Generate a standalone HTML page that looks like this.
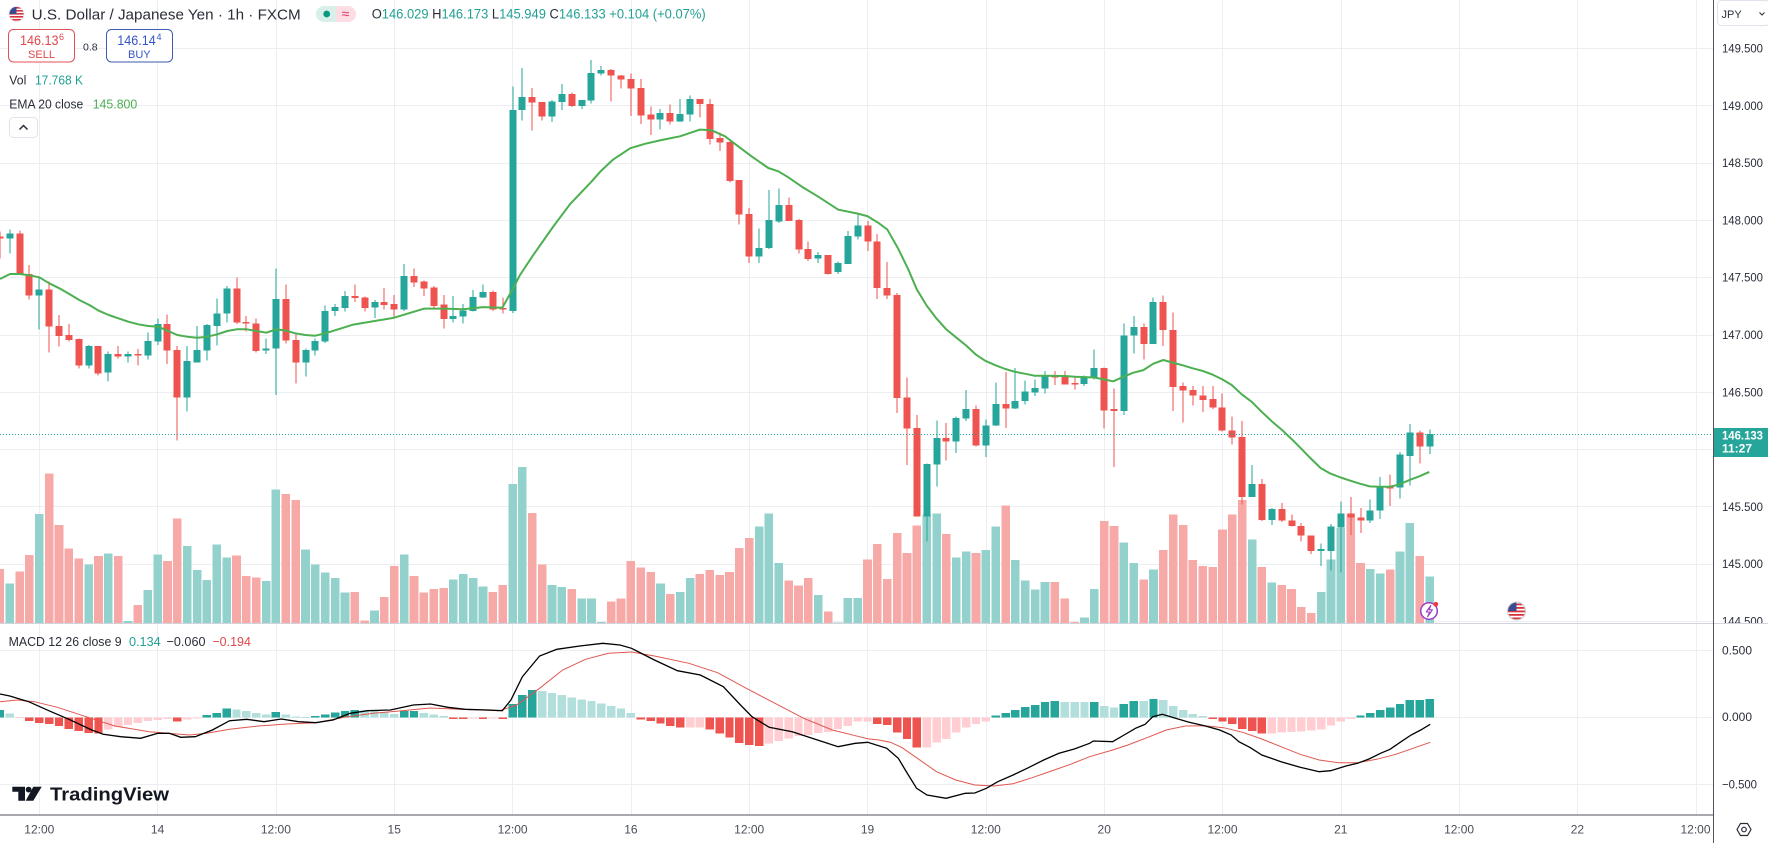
<!DOCTYPE html>
<html><head><meta charset="utf-8">
<style>
html,body{margin:0;padding:0;background:#fff;}
body{width:1768px;height:843px;overflow:hidden;position:relative;}
svg{position:absolute;left:0;top:0;font-family:"Liberation Sans",Arial,sans-serif;}
</style></head><body>
<svg id="c" width="1768" height="843" viewBox="0 0 1768 843" xmlns="http://www.w3.org/2000/svg">
<defs>
  <clipPath id="pp"><rect x="0" y="0" width="1713" height="623"/></clipPath>
  <clipPath id="mp"><rect x="0" y="624" width="1713" height="191"/></clipPath>
  <clipPath id="axp"><rect x="1714" y="26" width="54" height="597"/></clipPath>
  <clipPath id="pill"><rect x="316" y="6" width="40" height="16" rx="8"/></clipPath>
  <clipPath id="fl1"><circle cx="16.5" cy="14" r="7.5"/></clipPath>
  <clipPath id="fl2"><circle cx="1516.5" cy="611" r="8.5"/></clipPath>
</defs>
<rect x="0" y="0" width="1768" height="843" fill="#ffffff"/>
<!-- grid -->
<g stroke="#eceef2" stroke-width="1">
  <line x1="0" y1="48.5" x2="1713" y2="48.5"/>
  <line x1="0" y1="105.5" x2="1713" y2="105.5"/>
  <line x1="0" y1="163.5" x2="1713" y2="163.5"/>
  <line x1="0" y1="220.5" x2="1713" y2="220.5"/>
  <line x1="0" y1="277.5" x2="1713" y2="277.5"/>
  <line x1="0" y1="335.5" x2="1713" y2="335.5"/>
  <line x1="0" y1="392.5" x2="1713" y2="392.5"/>
  <line x1="0" y1="449.5" x2="1713" y2="449.5"/>
  <line x1="0" y1="506.5" x2="1713" y2="506.5"/>
  <line x1="0" y1="564.5" x2="1713" y2="564.5"/>
  <line x1="0" y1="621.5" x2="1713" y2="621.5"/>
  <line x1="0" y1="650.5" x2="1713" y2="650.5"/>
  <line x1="0" y1="717.5" x2="1713" y2="717.5"/>
  <line x1="0" y1="784.5" x2="1713" y2="784.5"/>
  <line x1="39.5" y1="0" x2="39.5" y2="815"/>
  <line x1="157.5" y1="0" x2="157.5" y2="815"/>
  <line x1="276.5" y1="0" x2="276.5" y2="815"/>
  <line x1="394.5" y1="0" x2="394.5" y2="815"/>
  <line x1="512.5" y1="0" x2="512.5" y2="815"/>
  <line x1="631.5" y1="0" x2="631.5" y2="815"/>
  <line x1="749.5" y1="0" x2="749.5" y2="815"/>
  <line x1="867.5" y1="0" x2="867.5" y2="815"/>
  <line x1="986.5" y1="0" x2="986.5" y2="815"/>
  <line x1="1104.5" y1="0" x2="1104.5" y2="815"/>
  <line x1="1222.5" y1="0" x2="1222.5" y2="815"/>
  <line x1="1341.5" y1="0" x2="1341.5" y2="815"/>
  <line x1="1459.5" y1="0" x2="1459.5" y2="815"/>
  <line x1="1577.5" y1="0" x2="1577.5" y2="815"/>
  <line x1="1696.5" y1="0" x2="1696.5" y2="815"/>
</g>
<g id="vol" clip-path="url(#pp)" shape-rendering="crispEdges"></g>
<g id="cand" clip-path="url(#pp)" shape-rendering="crispEdges"></g>
<g clip-path="url(#pp)"><path id="ema" d="" fill="none" stroke="#4caf50" stroke-width="2" stroke-linejoin="round"/></g>
<line x1="0" y1="434.5" x2="1713" y2="434.5" stroke="#26a69a" stroke-width="1" stroke-dasharray="1 2"/>
<g id="hist" clip-path="url(#mp)" shape-rendering="crispEdges"></g>
<g clip-path="url(#mp)">
  <path id="sig" d="" fill="none" stroke="#e0574f" stroke-width="1"/>
  <path id="mac" d="" fill="none" stroke="#000000" stroke-width="1.3"/>
</g>
<!-- separators / axes -->
<line x1="0" y1="623.5" x2="1768" y2="623.5" stroke="#d1d4dc" stroke-width="1"/>
<line x1="0" y1="815" x2="1713" y2="815" stroke="#50535e" stroke-width="1"/>
<line x1="1713.5" y1="0" x2="1713.5" y2="843" stroke="#50535e" stroke-width="1"/>

<!-- price axis labels -->
<g font-size="12" fill="#2a2e39" clip-path="url(#axp)">
  <text x="1722" y="52.5" textLength="41" lengthAdjust="spacingAndGlyphs">149.500</text>
  <text x="1722" y="109.8" textLength="41" lengthAdjust="spacingAndGlyphs">149.000</text>
  <text x="1722" y="167.1" textLength="41" lengthAdjust="spacingAndGlyphs">148.500</text>
  <text x="1722" y="224.4" textLength="41" lengthAdjust="spacingAndGlyphs">148.000</text>
  <text x="1722" y="281.7" textLength="41" lengthAdjust="spacingAndGlyphs">147.500</text>
  <text x="1722" y="339" textLength="41" lengthAdjust="spacingAndGlyphs">147.000</text>
  <text x="1722" y="396.3" textLength="41" lengthAdjust="spacingAndGlyphs">146.500</text>
  <text x="1722" y="510.9" textLength="41" lengthAdjust="spacingAndGlyphs">145.500</text>
  <text x="1722" y="568.2" textLength="41" lengthAdjust="spacingAndGlyphs">145.000</text>
  <text x="1722" y="625.5" textLength="41" lengthAdjust="spacingAndGlyphs">144.500</text>
</g>
<rect x="1714" y="428" width="54" height="29" fill="#26a69a"/>
<text x="1722" y="439.5" font-size="12" font-weight="bold" fill="#ffffff" textLength="41" lengthAdjust="spacingAndGlyphs">146.133</text>
<text x="1722" y="452.5" font-size="12" font-weight="bold" fill="#ffffff" textLength="30" lengthAdjust="spacingAndGlyphs">11:27</text>
<g font-size="12" fill="#2a2e39">
  <text x="1722" y="654.3" textLength="30" lengthAdjust="spacingAndGlyphs">0.500</text>
  <text x="1722" y="721" textLength="30" lengthAdjust="spacingAndGlyphs">0.000</text>
  <text x="1722" y="788.3" textLength="35" lengthAdjust="spacingAndGlyphs">−0.500</text>
</g>
<!-- JPY selector -->
<rect x="1717.5" y="0.5" width="52" height="25" rx="4" fill="#ffffff" stroke="#e0e3eb"/>
<text x="1721.5" y="18" font-size="11" fill="#2a2e39">JPY</text>
<path d="M1759.5 12.5 L1762 15 L1764.5 12.5" fill="none" stroke="#2a2e39" stroke-width="1.1"/>

<!-- time axis -->
<g font-size="12" fill="#4a4e59" text-anchor="middle">
  <text x="39.3" y="833.3">12:00</text>
  <text x="157.6" y="833.3">14</text>
  <text x="275.9" y="833.3">12:00</text>
  <text x="394.2" y="833.3">15</text>
  <text x="512.6" y="833.3">12:00</text>
  <text x="630.9" y="833.3">16</text>
  <text x="749.2" y="833.3">12:00</text>
  <text x="867.5" y="833.3">19</text>
  <text x="985.8" y="833.3">12:00</text>
  <text x="1104.2" y="833.3">20</text>
  <text x="1222.5" y="833.3">12:00</text>
  <text x="1340.8" y="833.3">21</text>
  <text x="1459.1" y="833.3">12:00</text>
  <text x="1577.4" y="833.3">22</text>
  <text x="1695.5" y="833.3">12:00</text>
</g>
<path d="M1737 829.5 L1740.5 823.5 L1747.5 823.5 L1751 829.5 L1747.5 835.5 L1740.5 835.5 Z" fill="none" stroke="#2a2e39" stroke-width="1.2"/>
<circle cx="1744" cy="829.5" r="2.3" fill="none" stroke="#2a2e39" stroke-width="1.2"/>

<!-- header -->
<g clip-path="url(#fl1)">
  <rect x="8" y="6" width="17" height="16" fill="#ffffff"/>
  <rect x="8" y="7" width="17" height="1.6" fill="#d9343a"/>
  <rect x="8" y="10" width="17" height="1.6" fill="#d9343a"/>
  <rect x="8" y="13" width="17" height="1.6" fill="#d9343a"/>
  <rect x="8" y="16" width="17" height="1.6" fill="#d9343a"/>
  <rect x="8" y="19" width="17" height="1.6" fill="#d9343a"/>
  <rect x="8" y="6" width="8.5" height="8" fill="#3c4a8f"/>
</g>
<circle cx="16.5" cy="14" r="7.5" fill="none" stroke="#e0e3eb" stroke-width="0.8"/>
<text x="31.7" y="19.3" font-size="15" fill="#2a2e39" textLength="269" lengthAdjust="spacingAndGlyphs">U.S. Dollar / Japanese Yen · 1h · FXCM</text>
<g clip-path="url(#pill)">
  <rect x="316" y="6" width="20" height="16" fill="#d9f0ea"/>
  <rect x="336" y="6" width="20" height="16" fill="#fbdde3"/>
</g>
<circle cx="326.7" cy="14" r="3.4" fill="#089981"/>
<text x="345.5" y="18.5" font-size="14" fill="#e0336b" text-anchor="middle">≈</text>
<text x="371.7" y="18.7" font-size="13.5" fill="#2a2e39" textLength="334" lengthAdjust="spacingAndGlyphs">O<tspan fill="#22a094">146.029</tspan> H<tspan fill="#22a094">146.173</tspan> L<tspan fill="#22a094">145.949</tspan> C<tspan fill="#22a094">146.133</tspan> <tspan fill="#22a094">+0.104 (+0.07%)</tspan></text>

<rect x="8.5" y="29.5" width="66" height="32.5" rx="5" fill="#ffffff" stroke="#e05259" stroke-width="1"/>
<text x="20" y="45" font-size="13.5" fill="#e0474c" textLength="38.5" lengthAdjust="spacingAndGlyphs">146.13</text>
<text x="59" y="40" font-size="9" fill="#e0474c">6</text>
<text x="41.5" y="57.8" font-size="11" fill="#e0474c" text-anchor="middle">SELL</text>
<text x="83" y="50.5" font-size="10.5" fill="#2a2e39">0.8</text>
<rect x="106.5" y="29.5" width="66" height="32.5" rx="5" fill="#ffffff" stroke="#3d5bb0" stroke-width="1"/>
<text x="117.3" y="45" font-size="13.5" fill="#3656c8" textLength="38.5" lengthAdjust="spacingAndGlyphs">146.14</text>
<text x="156.5" y="40" font-size="9" fill="#3656c8">4</text>
<text x="139.3" y="57.8" font-size="11" fill="#3656c8" text-anchor="middle">BUY</text>

<text x="9.3" y="84.5" font-size="13" fill="#2a2e39" textLength="17" lengthAdjust="spacingAndGlyphs">Vol</text>
<text x="35" y="84.5" font-size="13" fill="#22a094" textLength="48" lengthAdjust="spacingAndGlyphs">17.768 K</text>
<text x="9.3" y="108.5" font-size="13" fill="#2a2e39" textLength="74" lengthAdjust="spacingAndGlyphs">EMA 20 close</text>
<text x="92.7" y="108.5" font-size="13" fill="#4caf50" textLength="44.6" lengthAdjust="spacingAndGlyphs">145.800</text>
<rect x="9.5" y="117.5" width="28" height="20" rx="4" fill="#ffffff" stroke="#e0e3eb"/>
<path d="M19.5 129.5 L23.5 125.5 L27.5 129.5" fill="none" stroke="#2a2e39" stroke-width="1.5"/>

<!-- MACD legend -->
<text x="8.6" y="646" font-size="13" fill="#2a2e39" textLength="113" lengthAdjust="spacingAndGlyphs">MACD 12 26 close 9</text>
<text x="129" y="646" font-size="13" fill="#22a094" textLength="31.7" lengthAdjust="spacingAndGlyphs">0.134</text>
<text x="166.5" y="646" font-size="13" fill="#2a2e39" textLength="39" lengthAdjust="spacingAndGlyphs">−0.060</text>
<text x="212.4" y="646" font-size="13" fill="#e0474c" textLength="38.5" lengthAdjust="spacingAndGlyphs">−0.194</text>

<!-- TradingView logo -->
<path d="M12.3 786.7 H25 V800.7 H18.3 V791.7 H12.3 Z" fill="#131722"/>
<circle cx="28.6" cy="789.6" r="2.9" fill="#131722"/>
<path d="M33.3 786.7 H41.7 L33.3 800.7 H25.7 Z" fill="#131722"/>
<text x="50" y="800.5" font-size="18" font-weight="bold" fill="#131722" textLength="119" lengthAdjust="spacingAndGlyphs">TradingView</text>

<!-- icons on chart -->
<circle cx="1429" cy="611" r="8.3" fill="#ffffff" stroke="#9c3cc8" stroke-width="1.5"/>
<path d="M1430.8 605.5 L1426.3 612 L1429.6 612 L1427.6 616.8 L1432.4 609.8 L1429.2 609.8 Z" fill="none" stroke="#9c3cc8" stroke-width="1.1" stroke-linejoin="round"/>
<circle cx="1435.8" cy="604.3" r="2.4" fill="#f23645"/>
<g clip-path="url(#fl2)">
  <rect x="1507" y="602" width="19" height="18" fill="#ffffff"/>
  <rect x="1507" y="603.5" width="19" height="1.8" fill="#d9343a"/>
  <rect x="1507" y="607" width="19" height="1.8" fill="#d9343a"/>
  <rect x="1507" y="610.5" width="19" height="1.8" fill="#d9343a"/>
  <rect x="1507" y="614" width="19" height="1.8" fill="#d9343a"/>
  <rect x="1507" y="617.5" width="19" height="1.8" fill="#d9343a"/>
  <rect x="1507" y="602" width="9.5" height="9" fill="#3c4a8f"/>
</g>
<circle cx="1516.5" cy="611" r="9" fill="none" stroke="#c8cbd3" stroke-width="1"/>
</svg>
<script>
(function(){
var NS='http://www.w3.org/2000/svg';
function mk(t,a,p){var e=document.createElementNS(NS,t);for(var k in a)e.setAttribute(k,a[k]);p.appendChild(e);return e;}
function X(i){return -0.14+9.86*i;}
function yA(z){return 200+z/3;}
function yB(z){return 48.3+(z-22)/2.682;}
var UP='#26a69a',DN='#ef5350',UPV='#93d2cc',DNV='#f7a9a7';
// [dir, bodyTop, bodyBottom, wickTop, wickBottom, volTop]
var cA=[
[0,110,115,95,175,1107],[1,100,115,88,160,1150],[0,100,222,92,222,1115],[0,222,287,195,298,1065],
[1,268,287,230,388,942],[0,268,380,245,458,820],[0,378,408,345,440,975],[0,405,420,372,425,1045],
[0,417,497,415,505,1075],[1,438,497,435,505,1093],[0,438,520,438,527,1068],[1,462,518,455,545,1060],
[0,462,470,438,476,1068],[1,462,470,455,488,1263],[0,463,466,447,497,1215],[1,423,467,398,478,1170],
[1,372,425,355,435,1063],[0,372,452,343,492,1083],[0,450,593,438,722,955],[1,483,593,438,635,1038],
[1,450,487,378,488,1110],[1,375,452,372,482,1140],[1,340,378,296,437,1033],[1,265,340,258,368,1072],
[0,265,368,232,372,1066],[0,366,371,348,395,1128],[0,370,453,355,457,1132],[1,445,452,415,462,1143],
[1,297,445,205,585,868],[0,297,422,253,430,882],[0,420,488,400,550,900],[1,450,488,445,530,1048],
[1,423,452,415,467,1093]
];
var cB=[
[1,727,808,712,812,1428],[1,716,727,708,740,1442],[1,686,718,673,728,1482],[0,686,692,655,702,1480],
[0,690,718,688,728,1556],[1,703,717,697,745,1530],[0,703,710,665,722,1493],[0,708,723,683,747,1410],
[1,633,723,600,727,1380],[0,633,650,612,662,1437],[0,648,666,645,686,1482],[0,664,713,660,718,1472],
[0,709,748,684,773,1470],[1,740,748,686,758,1447],[1,725,741,708,760,1432],[1,689,727,670,728,1442],
[1,676,690,655,692,1466],[0,676,722,672,727,1480],[0,718,722,690,733,1462],[1,188,727,125,732,1190],
[1,153,188,75,215,1145],[0,153,167,128,243,1268],[0,166,205,166,215,1407],[1,165,205,160,220,1462],
[1,145,166,118,188,1467],[0,145,177,140,180,1472],[1,161,177,160,185,1497],[1,88,162,53,170,1497],
[1,80,89,70,95,1560],[0,80,95,78,165,1505],[0,95,105,94,130,1498],[0,104,130,90,203,1397],
[0,128,202,104,225,1415],
[0,200,213,178,255,1427],[1,196,213,185,240,1458],[0,196,218,173,227,1485],[1,198,218,158,220,1480],
[1,158,200,148,218,1442],[0,158,172,158,208,1432],[0,172,265,158,280,1421],[0,263,275,248,298,1435],
[0,273,378,272,382,1427],[0,375,468,375,495,1362],[0,466,580,450,598,1335],[1,558,580,505,598,1305],
[1,483,558,402,560,1270],[1,442,486,398,490,1402],[0,442,485,422,485,1450],[0,482,562,480,572,1463],
[0,560,587,540,592,1442],[1,576,586,568,598,1488],[0,576,627,576,628,1533],[1,598,622,594,627,1562],
[1,526,600,512,600,1496],[1,497,527,465,535,1496],[0,497,540,485,565,1393],[0,540,665,520,695,1352],
[0,665,685,595,695,1445],[0,683,960,678,1000,1322],[0,958,1042,905,1140,1375],[0,1040,1278,1005,1278,1302],
[1,1137,1278,1135,1345,1272],[1,1067,1138,1020,1197,1270],[0,1067,1076,1027,1128,1325],[1,1013,1077,1010,1108,1388],
[1,990,1015,938,1022,1372],[0,990,1087,980,1090,1375],[1,1033,1087,1017,1118,1367],[1,976,1033,918,1035,1305],
[0,976,988,890,1040,1248],[1,968,988,880,990,1395],[1,943,968,913,977,1450],[1,933,945,910,955,1473],
[1,900,935,888,948,1453],[0,898,905,888,925,1453],
[0,903,923,887,923,1497],[0,920,923,905,937,1560],[1,905,923,900,928,1548],[1,880,905,830,910,1472],
[0,880,993,878,1042,1290],[0,990,995,935,1145,1303],[1,792,995,760,1005,1348],[1,770,792,740,840,1402],
[0,770,815,760,857,1447],[1,702,815,690,815,1420],[0,702,778,685,820,1367],[0,778,930,730,995,1273],
[0,928,940,918,1025,1300],[0,938,953,928,980,1395],[0,953,965,928,997,1410],[0,963,985,928,990,1413],
[0,985,1047,948,1050,1313],[0,1047,1066,1010,1085,1273],[0,1064,1225,1022,1245,1233],[1,1190,1225,1140,1225,1340],
[0,1190,1287,1177,1290,1413],[1,1257,1287,1255,1300,1455],[0,1257,1288,1242,1292,1462],[0,1288,1303,1273,1305,1472],
[0,1303,1328,1295,1345,1520],[0,1328,1370,1328,1378,1537],[1,1365,1370,1350,1410,1480],[1,1305,1370,1298,1422,1393],
[1,1270,1307,1238,1428,1308],[0,1270,1280,1225,1327,1270],[0,1280,1288,1255,1322,1402],[1,1262,1288,1232,1295,1418],
[1,1200,1262,1172,1285,1430],[0,1198,1202,1165,1250,1420],[1,1112,1200,1105,1230,1372],[1,1053,1115,1030,1195,1295],
[0,1053,1090,1047,1135,1383],[1,1057,1090,1045,1110,1438]
];
var gV=document.getElementById('vol'),gC=document.getElementById('cand');
function draw(list,start,fy){
  for(var k=0;k<list.length;k++){
    var c=list[k],i=start+k,x=X(i),up=c[0]===1;
    var vt=fy(c[5]);
    mk('rect',{x:(x-4.3).toFixed(2),y:vt.toFixed(2),width:8.6,height:Math.max(1,623-vt).toFixed(2),fill:up?UPV:DNV},gV);
    var wt=fy(c[3]),wb=fy(c[4]);
    mk('rect',{x:(Math.round(x)-0.5).toFixed(2),y:wt.toFixed(2),width:1,height:Math.max(1,wb-wt).toFixed(2),fill:up?UP:DN},gC);
    var bt=fy(c[1]),bb=fy(c[2]);
    if(bb-bt<1.3){var m=(bt+bb)/2;bt=m-0.65;bb=m+0.65;}
    mk('rect',{x:(Math.round(x)-3.5).toFixed(2),y:bt.toFixed(2),width:7,height:(bb-bt).toFixed(2),fill:up?UP:DN},gC);
  }
}
draw(cA,0,yA);
draw(cB,33,yB);

// EMA
var pts=[];
var e6=[[0,237],[30,222],[60,222],[88,226],[118,232],[148,250],[178,265],[208,282],[238,300],[268,315],[296,332],[326,345],[355,355],[385,365],[415,373],[445,378],[475,380],[502,392],[532,405],[562,410],[592,413],[622,410],[652,403],[682,393],[710,388],[740,388],[769,393],[799,398],[829,388],[858,392],[886,400],[916,405],[946,407],[976,400]];
e6.forEach(function(p){pts.push([p[0]/3,yA(p[1])]);});
var e7=[[100,763],[220,745],[313,720],[370,720],[430,722],[490,716],[547,718],[577,670],[600,630],[637,580],[700,500],[750,440],[814,380],[844,350],[880,320],[931,290]];
e7.forEach(function(p){pts.push([320+p[0]/3,yB(p[1])]);});
var e8=[[0,278],[50,268],[105,258],[165,240],[200,242],[240,258],[280,285],[320,312],[370,343],[400,352],[430,368],[470,393],[520,420],[580,455],[637,465],[667,472],[700,490],[727,508],[760,560],[790,615],[815,668],[845,712],[873,745],[903,775],[933,797],[962,818],[992,843],[1021,860],[1051,872],[1081,882],[1111,890],[1141,895],[1168,900],[1198,900]];
e8.forEach(function(p){pts.push([645+p[0]/3,yB(p[1])]);});
var e9=[[30,901],[60,903],[118,905],[146,910],[175,915],[205,903],[235,892],[265,885],[295,868],[325,858],[353,865],[382,872],[412,880],[442,887],[472,897],[502,910],[530,925],[560,950],[590,970],[620,997],[650,1022],[680,1045],[710,1070],[738,1095],[767,1122],[797,1148],[827,1163],[857,1173],[887,1182],[916,1190],[944,1197],[973,1198],[1003,1198],[1033,1192],[1063,1180],[1093,1170],[1123,1158]];
e9.forEach(function(p){pts.push([1055+p[0]/3,yB(p[1])]);});
document.getElementById('ema').setAttribute('d','M'+pts.map(function(p){return p[0].toFixed(1)+' '+p[1].toFixed(1);}).join(' L'));

// MACD histogram
var gH=document.getElementById('hist');
var col={D:'#26a69a',L:'#b2dfdb',R:'#ef5350',P:'#ffcdd2'};
var BASE=717.5;
var h3="270D 280L 294P 302R 308R 312R 318R 326R 333R 338R 340R 328P 320P 314P 308P 303P 299P 296P 304R 298P 295P 285D 278D 265D 268L 272L 278L 283L 276D 283L 289L 291L 288D 283D 277D 272D 270D 271L 273L 276L 281L 272D 272D 278L 283L 287L 296R 296R 295P 296R 295P 296R 252D 225D 210D 212L 218L 225L 232L 238L 243L 250L 258L 265L 278L 298R 303R 310R 317R 322R 322P 322P 328R 340R 352R 368R 375R 377R 370P 362P 355P 348P 345P 338P 335P 327P 318P".split(' ');
var h10="290P 290P 298R 300R 323R 342R 368R 368P 353P 342P 323P 308P 298P 290P 272D 264D 255D 246D 240D 232D 228D 232L 232L 232L 232D 243L 248L 237D 229D 229L 222D 225L 243L 255L 267L 273L 282R 290R 297R 312R 318R 326R 326P 323P 322P 320P 317P 314P 302P 290P 282P 272D 264D 255D 248D 237D 225D 225D 222D".split(' ');
function hb(i,y,c){
  var x=X(i);var t=Math.min(y,BASE),b=Math.max(y,BASE);if(b-t<1){t=BASE-0.5;b=BASE+0.5;}
  mk('rect',{x:(x-4.2).toFixed(2),y:t.toFixed(2),width:8.4,height:(b-t).toFixed(2),fill:col[c]},gH);
}
h3.forEach(function(s,k){var z=parseFloat(s);var y=BASE+(z-292)/3;hb(k,y,s.slice(-1));});
h10.forEach(function(s,k){var z=parseFloat(s);var y=BASE+(z-278)/3;hb(87+k,y,s.slice(-1));});

// MACD lines
function path(a3,a10){
  var p=[];
  a3.forEach(function(q){p.push([q[0]/1.742,620+q[1]/3]);});
  a10.forEach(function(q){p.push([860+q[0]/2.613,625+q[1]/3]);});
  return 'M'+p.map(function(q){return q[0].toFixed(1)+' '+q[1].toFixed(1);}).join(' L');
}
var m3=[[0,222],[17,228],[50,245],[85,272],[120,298],[160,330],[180,343],[210,350],[245,355],[275,340],[295,340],[315,352],[340,350],[370,330],[400,302],[430,298],[460,305],[490,297],[520,305],[550,308],[580,300],[610,280],[640,272],[680,270],[720,255],[750,252],[780,262],[810,268],[850,270],[875,272],[890,240],[910,170],[940,108],[970,88],[1010,78],[1050,70],[1080,75],[1100,85],[1140,120],[1180,152],[1220,165],[1260,200],[1290,255],[1310,290],[1340,322],[1380,335],[1420,358],[1460,380],[1490,370]];
var m10=[[20,352],[70,370],[100,400],[120,438],[148,490],[175,510],[225,520],[275,505],[300,504],[330,490],[360,470],[400,450],[440,428],[480,405],[520,385],[560,372],[600,355],[610,348],[660,350],[690,330],[720,310],[745,298],[765,275],[790,268],[820,278],[860,292],[900,302],[940,315],[970,330],[990,350],[1020,368],[1050,390],[1100,410],[1150,427],[1200,440],[1230,437],[1270,423],[1300,415],[1330,402],[1360,385],[1385,373],[1410,353],[1440,330],[1465,315],[1490,298]];
var s3=[[0,245],[30,240],[60,245],[100,262],[150,290],[200,318],[260,335],[330,345],[360,340],[400,328],[450,318],[500,312],[550,308],[600,292],[650,280],[700,272],[750,264],[800,268],[870,272],[900,255],[940,205],[980,150],[1020,118],[1060,100],[1100,96],[1140,108],[1200,130],[1250,158],[1300,205],[1350,250],[1400,295],[1450,330],[1490,347]];
var s10=[[20,341],[50,345],[80,352],[110,368],[150,400],[200,440],[250,465],[300,480],[350,483],[400,476],[450,458],[500,438],[550,418],[600,395],[660,375],[700,360],[750,338],[800,315],[850,303],[900,302],[950,308],[1000,322],[1050,342],[1100,365],[1150,388],[1200,405],[1250,413],[1300,413],[1350,403],[1400,388],[1450,368],[1490,352]];
document.getElementById('mac').setAttribute('d',path(m3,m10));
document.getElementById('sig').setAttribute('d',path(s3,s10));
})();
</script>
</body></html>
